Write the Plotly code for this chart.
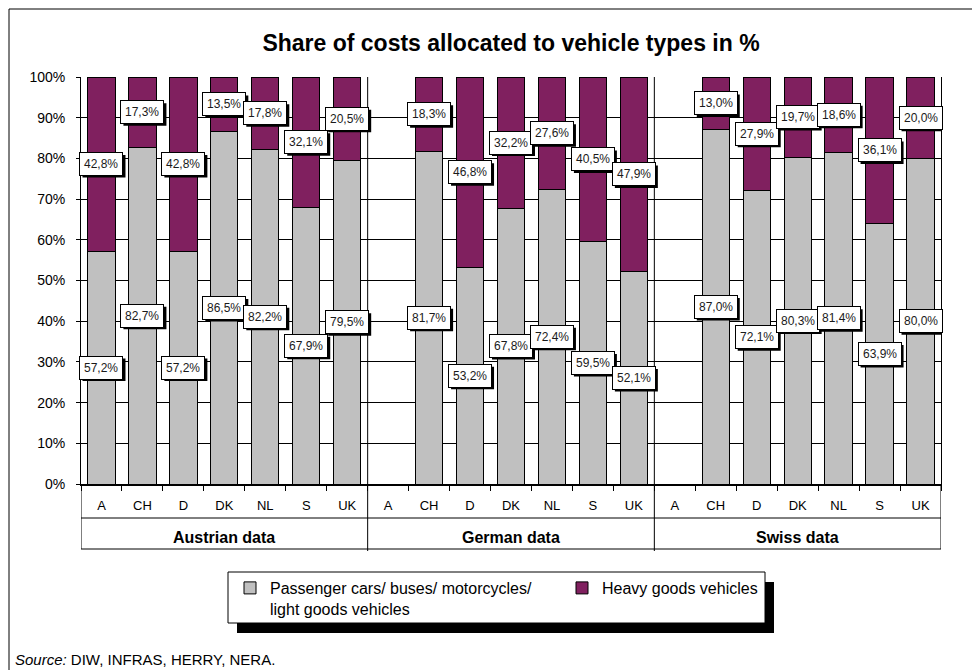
import plotly.graph_objects as go

# ---------------- data ----------------
groups = ["Austrian data", "German data", "Swiss data"]
countries = ["A", "CH", "D", "DK", "NL", "S", "UK"]

passenger_austrian = [57.2, 82.7, 57.2, 86.5, 82.2, 67.9, 79.5]
heavy_austrian = [42.8, 17.3, 42.8, 13.5, 17.8, 32.1, 20.5]
passenger_german = [None, 81.7, 53.2, 67.8, 72.4, 59.5, 52.1]
heavy_german = [None, 18.3, 46.8, 32.2, 27.6, 40.5, 47.9]
passenger_swiss = [None, 87.0, 72.1, 80.3, 81.4, 63.9, 80.0]
heavy_swiss = [None, 13.0, 27.9, 19.7, 18.6, 36.1, 20.0]

y_tick_values = [0, 10, 20, 30, 40, 50, 60, 70, 80, 90, 100]
y_tick_labels = ["0%", "10%", "20%", "30%", "40%", "50%", "60%", "70%", "80%", "90%", "100%"]

series_names = ["Passenger cars/ buses/ motorcycles/<br>light goods vehicles", "Heavy goods vehicles"]
title_text = "Share of costs allocated to vehicle types in %"
source_text = "<i>Source:</i> DIW, INFRAS, HERRY, NERA."

# ---------------- build ----------------
passenger = passenger_austrian + passenger_german + passenger_swiss
heavy = heavy_austrian + heavy_german + heavy_swiss
n_cat = len(countries)
xpos = list(range(len(groups) * n_cat))
cat_labels = countries * len(groups)

FONT = "Liberation Sans, Arial, sans-serif"
GREY = "#C0C0C0"
PLUM = "#80205F"

W, H = 972, 670
L, R, T, B = 81, 31, 77, 186
PW = W - L - R
PH = H - T - B


def px_x(p):
    return (p - L) / PW


def px_y(p):
    return (H - B - p) / PH


fig = go.Figure()
fig.add_trace(go.Bar(x=xpos, y=passenger, name=series_names[0], width=0.667,
                     marker=dict(color=GREY, line=dict(color="black", width=1))))
fig.add_trace(go.Bar(x=xpos, y=heavy, name=series_names[1], width=0.667,
                     marker=dict(color=PLUM, line=dict(color="black", width=1))))


def fmt(v):
    return f"{v:.1f}".replace(".", ",") + "%"


annotations = []
shapes = []
for i, (p, h) in enumerate(zip(passenger, heavy)):
    if p is None:
        continue
    for val, ycen in ((p, p / 2), (h, p + h / 2)):
        # drop shadow of the label box (pixel-sized, anchored on the label centre)
        shapes.append(dict(type="rect", xref="x", yref="y", xsizemode="pixel", ysizemode="pixel",
                           xanchor=xpos[i], yanchor=ycen, x0=-19, x1=24, y0=-13.5, y1=9,
                           fillcolor="black", line=dict(width=0), layer="above"))
        annotations.append(dict(x=xpos[i], y=ycen, xref="x", yref="y", text=fmt(val), showarrow=False,
                                borderpad=4, borderwidth=1, bgcolor="white", bordercolor="black",
                                font=dict(family=FONT, size=12, color="#1a1a1a")))

for g, name in enumerate(groups):
    annotations.append(dict(x=g * n_cat + (n_cat - 1) / 2, y=px_y(537), xref="x", yref="paper",
                            text=f"<b>{name}</b>", showarrow=False, yanchor="middle",
                            font=dict(family=FONT, size=16, color="black")))

annotations.append(dict(x=px_x(13), y=px_y(659), xref="paper", yref="paper", text=source_text,
                        showarrow=False, xanchor="left", yanchor="middle",
                        font=dict(family=FONT, size=15, color="black")))

line = dict(color="black", width=1)
# category/group box
shapes.append(dict(type="line", xref="x", yref="paper", x0=-0.5, x1=len(xpos) - 0.5,
                   y0=px_y(518), y1=px_y(518), line=line))
shapes.append(dict(type="line", xref="x", yref="paper", x0=-0.5, x1=len(xpos) - 0.5,
                   y0=px_y(549), y1=px_y(549), line=line))
for xb in (-0.5, len(xpos) - 0.5):
    shapes.append(dict(type="line", xref="x", yref="paper", x0=xb, x1=xb,
                       y0=px_y(549), y1=0, line=line))
for g in range(1, len(groups)):
    xb = g * n_cat - 0.5
    shapes.append(dict(type="line", xref="x", yref="paper", x0=xb, x1=xb,
                       y0=px_y(551), y1=1, line=line))
# outer frame
shapes.append(dict(type="rect", xref="paper", yref="paper", x0=px_x(9), x1=px_x(985),
                   y0=px_y(690), y1=px_y(9), line=line, layer="below"))
# legend box with shadow
shapes.append(dict(type="rect", xref="paper", yref="paper", x0=px_x(237), x1=px_x(774),
                   y0=px_y(633), y1=px_y(582), line=dict(width=0), fillcolor="black", layer="above"))
shapes.append(dict(type="rect", xref="paper", yref="paper", x0=px_x(228), x1=px_x(765),
                   y0=px_y(623), y1=px_y(572), line=line, fillcolor="white", layer="above"))

fig.update_layout(
    width=W, height=H, autosize=False,
    margin=dict(l=L, r=R, t=T, b=B, pad=0),
    paper_bgcolor="white", plot_bgcolor="white",
    barmode="stack",
    font=dict(family=FONT, color="black"),
    title=dict(text=f"<b>{title_text}</b>", x=0.5, xref="paper", xanchor="center",
               y=1 - 43 / H, yanchor="middle", font=dict(family=FONT, size=23, color="black")),
    showlegend=True,
    legend=dict(orientation="h", x=px_x(230), xanchor="left", y=px_y(571), yanchor="top",
                bgcolor="rgba(0,0,0,0)", borderwidth=0, valign="top",
                entrywidth=287, entrywidthmode="pixels", traceorder="normal",
                font=dict(family=FONT, size=16, color="black")),
    annotations=annotations,
    shapes=shapes,
)

fig.update_xaxes(range=[-0.5, len(xpos) - 0.5], tickmode="array", tickvals=xpos, ticktext=cat_labels,
                 ticks="", showgrid=False, zeroline=False, showline=True, linecolor="black", linewidth=2,
                 tickfont=dict(family=FONT, size=13, color="black"), ticklabelstandoff=8,
                 minor=dict(tickmode="linear", tick0=0.5, dtick=1, ticks="outside", ticklen=5,
                            tickcolor="black", tickwidth=1, showgrid=False))
fig.update_yaxes(range=[0, 100], tickmode="array", tickvals=y_tick_values, ticktext=y_tick_labels,
                 ticks="outside", ticklen=4, tickcolor="black", showgrid=True, gridcolor="black",
                 gridwidth=1, zeroline=False, showline=True, linecolor="black", linewidth=1, mirror=True,
                 tickfont=dict(family=FONT, size=14, color="black"), ticklabelstandoff=8)

fig.write_html("out.html", config={"displayModeBar": False},
               post_script="document.body.style.margin='0px';")
